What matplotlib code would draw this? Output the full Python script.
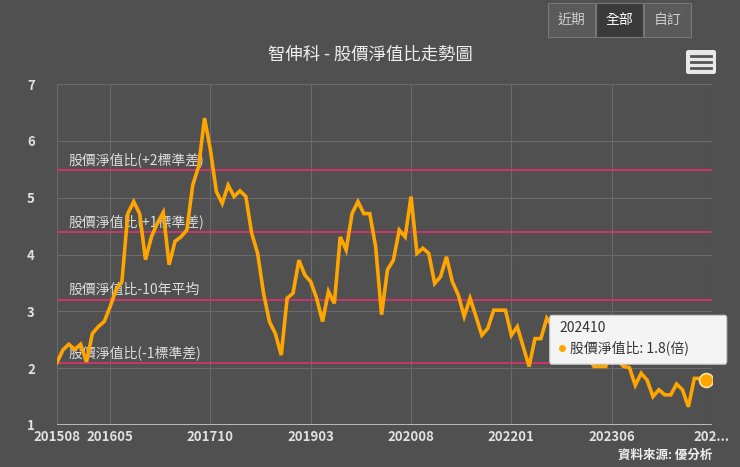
import matplotlib.pyplot as plt
from matplotlib.patches import FancyBboxPatch, Rectangle

plt.rcParams['font.family'] = ['Noto Sans CJK TC', 'DejaVu Sans']

# monthly P/B ratio, 201508 .. 202410
pb = [2.10, 2.32, 2.42, 2.33, 2.42, 2.11, 2.61, 2.73, 2.82, 3.08,
      3.38, 3.52, 4.72, 4.93, 4.72, 3.91, 4.31, 4.55, 4.74, 3.82,
      4.23, 4.31, 4.43, 5.22, 5.55, 6.40, 5.84, 5.11, 4.90, 5.22,
      5.02, 5.12, 5.02, 4.37, 4.02, 3.32, 2.82, 2.61, 2.23, 3.23,
      3.32, 3.90, 3.64, 3.52, 3.23, 2.82, 3.35, 3.14, 4.31, 4.08,
      4.72, 4.93, 4.72, 4.72, 4.14, 2.94, 3.73, 3.90, 4.43, 4.31,
      5.02, 4.02, 4.11, 4.02, 3.49, 3.61, 3.96, 3.52, 3.29, 2.91,
      3.23, 2.91, 2.58, 2.70, 3.02, 3.02, 3.02, 2.58, 2.73, 2.38,
      2.03, 2.52, 2.52, 2.88, 2.73, 2.61, 2.44, 2.32, 2.26, 2.26,
      2.20, 2.03, 2.03, 2.03, 2.38, 2.14, 2.03, 2.01, 1.70, 1.91,
      1.79, 1.50, 1.62, 1.53, 1.53, 1.72, 1.62, 1.32, 1.82, 1.82,
      1.80]

band_values = [5.49, 4.39, 3.20, 2.09]
band_labels = ['股價淨值比(+2標準差)', '股價淨值比(+1標準差)',
               '股價淨值比-10年平均', '股價淨值比(-1標準差)']

tick_idx = [0, 9, 26, 43, 60, 77, 94, 111]
tick_labels = ['201508', '201605', '201710', '201903', '202008', '202201', '202306', '202...']

bg = '#505050'
fig = plt.figure(figsize=(7.4, 4.67), dpi=100, facecolor=bg)
ax = fig.add_axes([57 / 740, 42 / 467, 655 / 740, 341 / 467], facecolor=bg)

x = list(range(len(pb)))
ax.set_xlim(0, 111)
ax.set_ylim(1, 7)
for xi in tick_idx:
    ax.axvline(xi, color='#6a6a6a', lw=0.8, zorder=0)
for yi in range(2, 8):
    ax.axhline(yi, color='#6a6a6a', lw=0.8, zorder=0)

for v, lab in zip(band_values, band_labels):
    ax.axhline(v, color='#d6336c', lw=1.3, zorder=1)
    ax.text(2, v + 0.05, lab, color='#dddddd', fontsize=10, va='bottom', zorder=3)

ax.plot(x, pb, color='#ffa500', lw=2.6, zorder=4, solid_joinstyle='miter')
ax.plot(x[-1], pb[-1], 'o', ms=10, color='#ffa500', mec='#ffe0a0', mew=1.2, zorder=6)

ax.set_xticks(tick_idx)
ax.set_xticklabels(tick_labels)
ax.set_yticks(range(1, 8))
ax.tick_params(colors='#e0e0e0', length=0, labelsize=9.5)
for lab in ax.get_xticklabels() + ax.get_yticklabels():
    lab.set_fontweight('bold')
ax.tick_params(axis='y', pad=16)
for s in ax.spines.values():
    s.set_visible(False)
ax.axhline(1, color='#cccccc', lw=1.2)

# tooltip
ax.add_patch(FancyBboxPatch((83.5, 2.07), 30.0, 0.86, boxstyle='round,pad=0,rounding_size=0.3',
                            fc='#f4f4f4', ec='#cccccc', lw=0.8, zorder=7, mutation_aspect=0.2,
                            clip_on=False))
ax.text(85.2, 2.70, '202410', fontsize=10, color='#333333', zorder=8, va='center')
ax.plot(85.6, 2.36, 'o', ms=4, color='#ffa500', zorder=8)
ax.text(87.0, 2.36, '股價淨值比: 1.8(倍)', fontsize=10, color='#333333', zorder=8, va='center',
        clip_on=False)

fig.text(0.5, 1 - 55 / 467, '智伸科 - 股價淨值比走勢圖', ha='center', va='center',
         color='#eeeeee', fontsize=12.5)
fig.text(712 / 740, 1 - 455 / 467, '資料來源: 優分析', ha='right', va='center',
         color='#eeeeee', fontsize=9, fontweight='bold')

# buttons
for i, lab in enumerate(['近期', '全部', '自訂']):
    x0 = 548 + i * 48
    fc = '#3a3a3a' if lab == '全部' else '#5a5a5a'
    fig.patches.append(Rectangle((x0 / 740, 1 - 37 / 467), 47 / 740, 34 / 467,
                                 transform=fig.transFigure, fc=fc, ec='#777777', lw=0.8))
    fig.text((x0 + 23.5) / 740, 1 - 20 / 467, lab, ha='center', va='center',
             color='#ffffff' if lab == '全部' else '#cccccc', fontsize=10)

# menu icon
fig.patches.append(FancyBboxPatch((686 / 740, 1 - 74 / 467), 30 / 740, 24 / 467,
                                  boxstyle='round,pad=0,rounding_size=0.004',
                                  transform=fig.transFigure, fc='#e8e8e8', ec='none'))
for dy in (56, 62, 68):
    fig.lines.append(plt.Line2D([691 / 740, 711 / 740], [1 - dy / 467] * 2,
                                transform=fig.transFigure, color='#555555', lw=2))

fig.savefig('out.png', dpi=100, facecolor=bg)
